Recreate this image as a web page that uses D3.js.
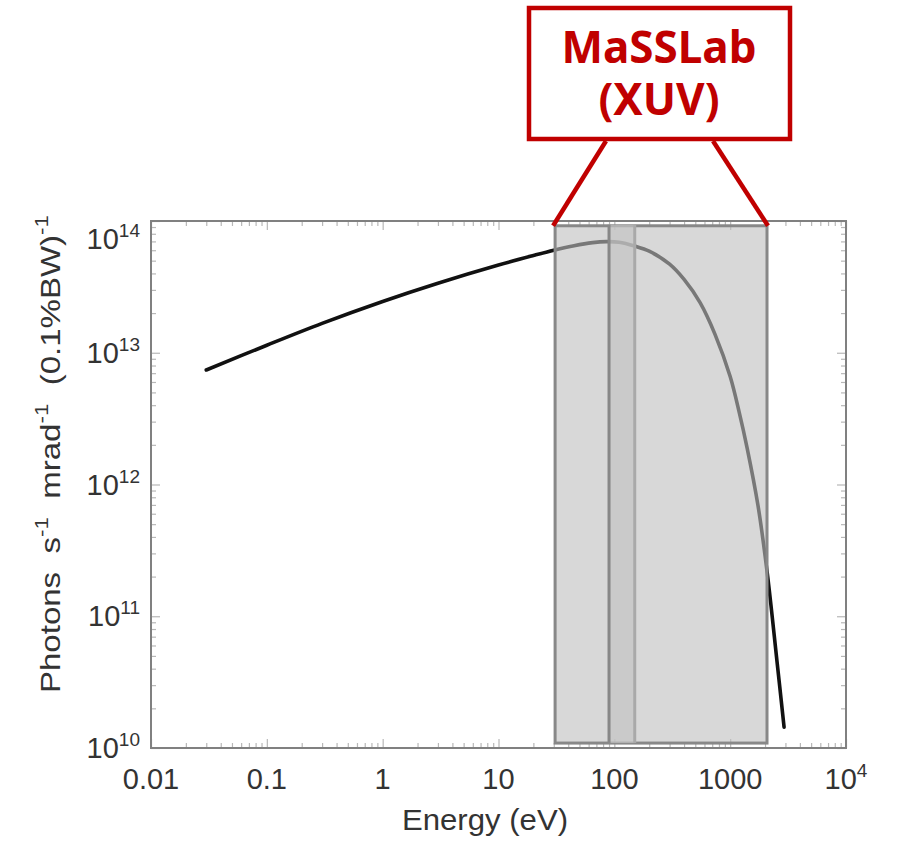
<!DOCTYPE html>
<html><head><meta charset="utf-8">
<script src="https://cdn.jsdelivr.net/npm/d3@7"></script>
<style>
html,body{margin:0;padding:0;background:#fff;}
svg{display:block;}
</style></head>
<body>
<svg id="chart" width="897" height="842"></svg>
<script>
// ---- data ----
const energy = [0.03, 0.1, 0.3, 1, 3, 10, 20, 30, 45, 65, 85, 110, 150, 200, 300, 400, 550, 740, 1000, 1200, 1400, 1740, 2090, 2540, 2920];
const photons = [7.4e12, 1.14e13, 1.67e13, 2.45e13, 3.37e13, 4.63e13, 5.47e13, 6.0e13, 6.5e13, 6.85e13, 6.97e13, 6.9e13, 6.45e13, 5.9e13, 4.7e13, 3.6e13, 2.4e13, 1.38e13, 6.6e12, 3.5e12, 1.9e12, 6.9e11, 2.13e11, 4.5e10, 1.44e10];
const xTicks = [0.01, 0.1, 1, 10, 100, 1000, 10000];
const xTickText = ["0.01", "0.1", "1", "10", "100", "1000", "10"];
const xTickSup = ["", "", "", "", "", "", "4"];
const yTicks = [1e10, 1e11, 1e12, 1e13, 1e14];
const yTickText = ["10", "10", "10", "10", "10"];
const yTickSup = ["10", "11", "12", "13", "14"];
const bandOuter = [30.8, 2080];     // eV range of MaSSLab XUV
const bandInner = [90, 150];        // eV
const bandY = [1.09e10, 9.2e13];
const annotationLines = ["MaSSLab", "(XUV)"];
const xTitle = "Energy (eV)";

const svg = d3.select("#chart");
const L = 151, R = 846, T = 221, B = 748;
const x = d3.scaleLog().domain([0.01, 1e4]).range([L, R]);
const y = d3.scaleLog().domain([1e10, 1e14]).range([B, T]);
const FONT = "'Liberation Sans', Arial, Helvetica, sans-serif";

function minors(lo, hi) {
  const out = [];
  for (let e = Math.log10(lo); e < Math.log10(hi); e++) {
    for (let k = 2; k <= 9; k++) out.push(k * Math.pow(10, e));
  }
  return out;
}
const xMinor = minors(0.01, 1e4);
const yMinor = minors(1e10, 1e14);

const tickColor = "#b8b8b8";
function drawAxis(axisFn, scale, trans, ticks, size) {
  const g = svg.append("g").attr("transform", trans)
    .call(axisFn(scale).tickValues(ticks).tickSize(size).tickFormat(""));
  g.select(".domain").remove();
  g.selectAll(".tick line").attr("stroke", tickColor).attr("stroke-width", 1.2);
  return g;
}
drawAxis(d3.axisBottom, x, `translate(0,${B})`, xTicks, -9);
drawAxis(d3.axisBottom, x, `translate(0,${B})`, xMinor, -5);
drawAxis(d3.axisTop, x, `translate(0,${T})`, xTicks, -9);
drawAxis(d3.axisTop, x, `translate(0,${T})`, xMinor, -5);
drawAxis(d3.axisLeft, y, `translate(${L},0)`, yTicks, -9);
drawAxis(d3.axisLeft, y, `translate(${L},0)`, yMinor, -5);
drawAxis(d3.axisRight, y, `translate(${R},0)`, yTicks, -9);
drawAxis(d3.axisRight, y, `translate(${R},0)`, yMinor, -5);

// curve
const pts = energy.map((e, i) => [e, photons[i]]);
svg.append("path").datum(pts)
  .attr("fill", "none").attr("stroke", "#111").attr("stroke-width", 3.6)
  .attr("stroke-linecap", "round")
  .attr("d", d3.line().x(d => x(d[0])).y(d => y(d[1])).curve(d3.curveCatmullRom.alpha(0.5)));

// shaded band (outer)
svg.append("rect")
  .attr("x", x(bandOuter[0])).attr("y", y(bandY[1]))
  .attr("width", x(bandOuter[1]) - x(bandOuter[0]))
  .attr("height", y(bandY[0]) - y(bandY[1]))
  .attr("fill", "rgb(190,190,190)").attr("fill-opacity", 0.6)
  .attr("stroke", "#888").attr("stroke-width", 3);
// inner band
svg.append("rect")
  .attr("x", x(bandInner[0])).attr("y", y(bandY[1]) - 1)
  .attr("width", x(bandInner[1]) - x(bandInner[0]))
  .attr("height", y(bandY[0]) - y(bandY[1]) + 1)
  .attr("fill", "rgb(196,196,196)").attr("fill-opacity", 0.69);
svg.append("line").attr("x1", x(bandInner[0])).attr("x2", x(bandInner[0]))
  .attr("y1", y(bandY[1]) - 1).attr("y2", y(bandY[0]))
  .attr("stroke", "#878787").attr("stroke-width", 3);
svg.append("line").attr("x1", x(bandInner[1])).attr("x2", x(bandInner[1]))
  .attr("y1", y(bandY[1]) - 1).attr("y2", y(bandY[0]))
  .attr("stroke", "#a9a9a9").attr("stroke-width", 3);

// frame
svg.append("rect").attr("x", L).attr("y", T).attr("width", R - L).attr("height", B - T)
  .attr("fill", "none").attr("stroke", "#808080").attr("stroke-width", 2);

// x tick labels
xTicks.forEach((v, i) => {
  const t = svg.append("text").attr("x", x(v)).attr("y", 789)
    .attr("text-anchor", "middle").attr("font-family", FONT).attr("font-size", 29).attr("fill", "#333");
  t.append("tspan").text(xTickText[i]);
  if (xTickSup[i]) t.append("tspan").attr("dy", -12).attr("font-size", 19).text(xTickSup[i]);
});
// y tick labels
yTicks.forEach((v, i) => {
  const t = svg.append("text").attr("x", 140).attr("y", Math.max(y(v) + 10, T + 28))
    .attr("text-anchor", "end").attr("font-family", FONT).attr("font-size", 29).attr("fill", "#333");
  t.append("tspan").text(yTickText[i]);
  t.append("tspan").attr("dy", -12).attr("font-size", 19).text(yTickSup[i]);
});

// axis titles
svg.append("text").attr("x", 485).attr("y", 830).attr("text-anchor", "middle")
  .attr("font-family", FONT).attr("font-size", 29).attr("fill", "#333")
  .attr("textLength", 166).attr("lengthAdjust", "spacingAndGlyphs").text(xTitle);

const yt = svg.append("text").attr("transform", "translate(60,454) rotate(-90)")
  .attr("text-anchor", "middle").attr("font-family", FONT).attr("font-size", 28).attr("fill", "#333")
  .attr("xml:space", "preserve");
const yParts = [["Photons  s", false], ["-1", true], ["  mrad", false], ["-1", true], ["  (0.1%BW)", false], ["-1", true]];
yParts.forEach(([s, sup], i) => {
  const sp = yt.append("tspan").text(s);
  if (sup) sp.attr("font-size", 19).attr("dy", -12);
  else if (i > 0) sp.attr("dy", 12);
});
yt.attr("textLength", 478).attr("lengthAdjust", "spacingAndGlyphs");

// annotation
const red = "#c00000";
const ann = svg.append("g");
ann.append("rect").attr("x", 529).attr("y", 8).attr("width", 261).attr("height", 131)
  .attr("fill", "#fff").attr("stroke", red).attr("stroke-width", 4.5);
ann.append("line").attr("x1", 606).attr("y1", 141).attr("x2", x(bandOuter[0]) - 2).attr("y2", y(bandY[1]))
  .attr("stroke", red).attr("stroke-width", 4.5);
ann.append("line").attr("x1", 713).attr("y1", 141).attr("x2", x(bandOuter[1]) + 1).attr("y2", y(bandY[1]))
  .attr("stroke", red).attr("stroke-width", 4.5);
const annText = ann.append("text").attr("text-anchor", "middle")
  .attr("font-family", "'Noto Sans', sans-serif").attr("font-weight", "bold")
  .attr("font-size", 44).attr("fill", red);
annotationLines.forEach((s, i) => {
  annText.append("tspan").attr("x", 659).attr("y", 63 + i * 52).text(s);
});
</script>
</body></html>
